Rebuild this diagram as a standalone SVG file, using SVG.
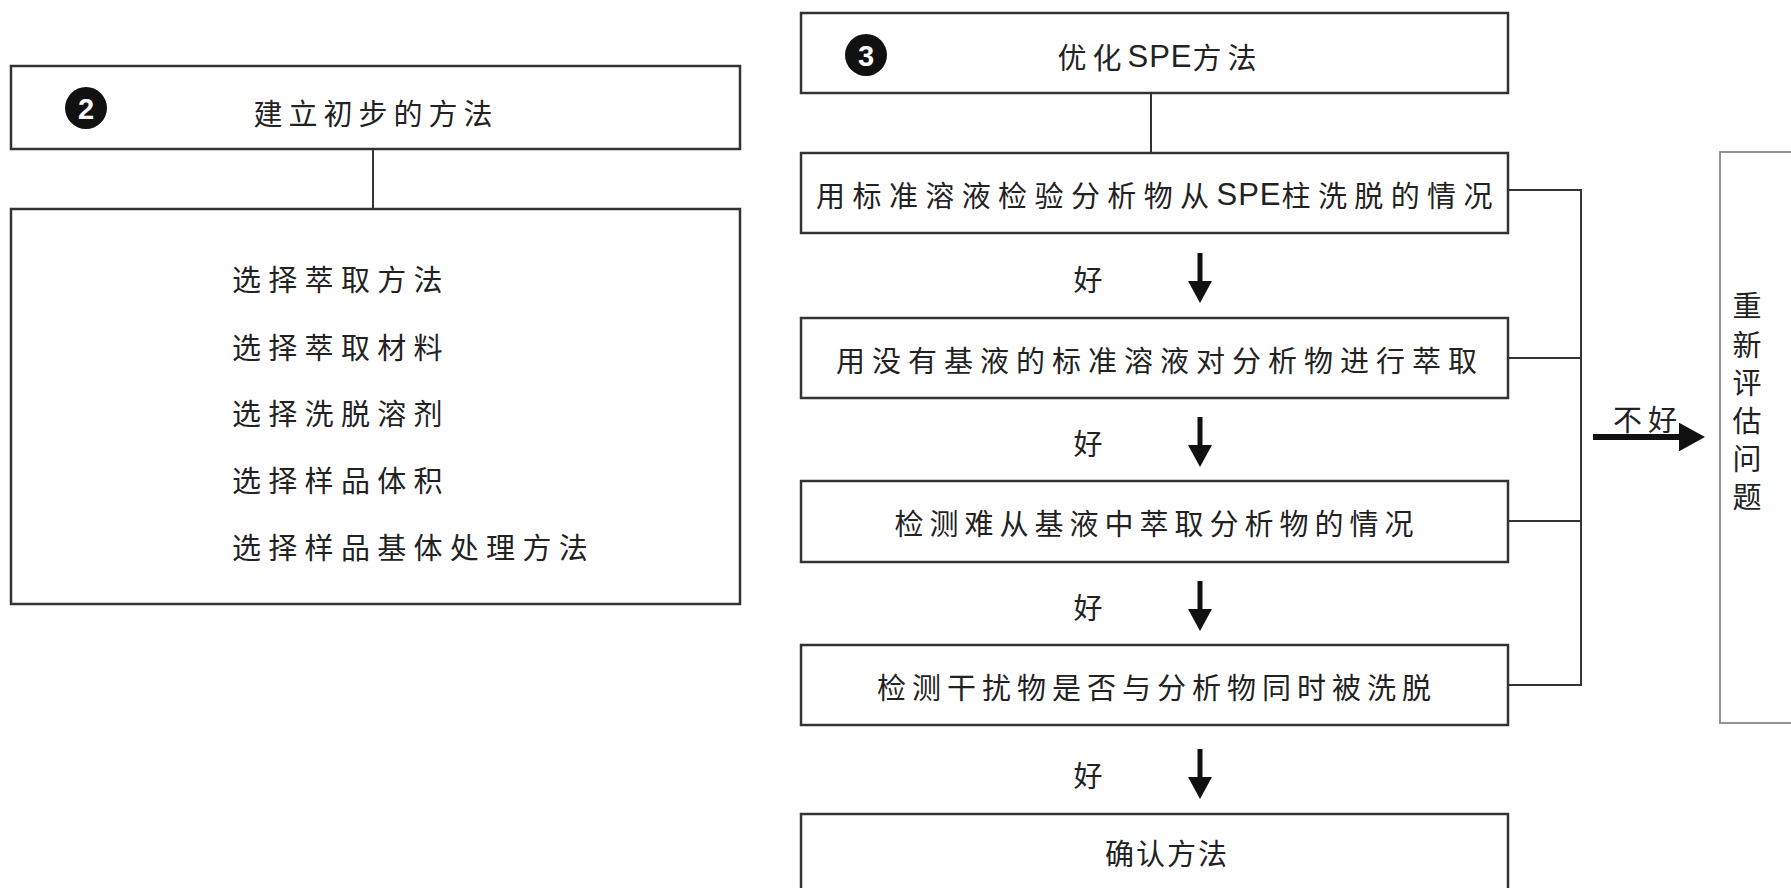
<svg xmlns="http://www.w3.org/2000/svg" width="1791" height="888" viewBox="0 0 1791 888">
<defs>
<style>
.box{fill:#fff;stroke:#333;stroke-width:2.5}
.box2{fill:#fff;stroke:#888;stroke-width:1.8}
.ln{fill:none;stroke:#333;stroke-width:2}
.t{font-family:"Noto Sans CJK SC","Liberation Sans",sans-serif;font-size:29px;fill:#222;letter-spacing:6px}
.lt{font-family:"Liberation Sans",sans-serif;font-size:31px;letter-spacing:1px}
.c{text-anchor:middle;dominant-baseline:central}
.l{dominant-baseline:central;letter-spacing:7.3px}
.v{letter-spacing:0}
.num{font-family:"Liberation Sans",sans-serif;font-weight:bold;font-size:29px;fill:#fff;text-anchor:middle;dominant-baseline:central}
</style>
<marker id="ah" markerWidth="4.4" markerHeight="4.8" refX="0.2" refY="2.4" orient="auto" markerUnits="strokeWidth">
<path d="M0,0 L4.4,2.4 L0,4.8 Z" fill="#111"/>
</marker>
</defs>
<rect width="1791" height="888" fill="#fff"/>

<g id="connectors">
<line class="ln" x1="373" y1="149" x2="373" y2="209"/>
<line class="ln" x1="1151" y1="93" x2="1151" y2="153"/>
<line x1="1200" y1="253" x2="1200" y2="282" stroke="#111" stroke-width="5" marker-end="url(#ah)"/>
<line x1="1200" y1="417" x2="1200" y2="446" stroke="#111" stroke-width="5" marker-end="url(#ah)"/>
<line x1="1200" y1="581" x2="1200" y2="610" stroke="#111" stroke-width="5" marker-end="url(#ah)"/>
<line x1="1200" y1="749" x2="1200" y2="778" stroke="#111" stroke-width="5" marker-end="url(#ah)"/>
<polyline class="ln" points="1508,190 1581,190 1581,685 1508,685"/>
<line class="ln" x1="1508" y1="358" x2="1581" y2="358"/>
<line class="ln" x1="1508" y1="521" x2="1581" y2="521"/>
<line x1="1593" y1="437" x2="1680" y2="437" stroke="#111" stroke-width="6" marker-end="url(#ah)"/>
<text class="t c" x="1091" y="278">好</text>
<text class="t c" x="1091" y="442">好</text>
<text class="t c" x="1091" y="606">好</text>
<text class="t c" x="1091" y="774">好</text>
<text class="t c" x="1648" y="418">不好</text>
</g>

<g id="n2">
<rect class="box" x="11" y="66" width="729" height="83"/>
<circle cx="86" cy="108" r="21" fill="#111"/>
<text class="num" x="86" y="109">2</text>
<text class="t c" x="376" y="112">建立初步的方法</text>
</g>

<g id="n2list">
<rect class="box" x="11" y="209" width="729" height="395"/>
<text class="t l" x="232" y="278">选择萃取方法</text>
<text class="t l" x="232" y="346">选择萃取材料</text>
<text class="t l" x="232" y="412">选择洗脱溶剂</text>
<text class="t l" x="232" y="479">选择样品体积</text>
<text class="t l" x="232" y="546">选择样品基体处理方法</text>
</g>

<g id="n3">
<rect class="box" x="801" y="13" width="707" height="80"/>
<circle cx="866" cy="55" r="21" fill="#111"/>
<text class="num" x="866" y="56">3</text>
<text class="t c" x="1160" y="56">优化<tspan class="lt">SPE</tspan>方法</text>
</g>

<g id="a">
<rect class="box" x="801" y="153" width="707" height="80"/>
<text class="t c" x="1158" y="194" style="letter-spacing:7.4px">用标准溶液检验分析物从<tspan class="lt">SPE</tspan>柱洗脱的情况</text>
</g>
<g id="b">
<rect class="box" x="801" y="318" width="707" height="80"/>
<text class="t c" x="1160" y="359" style="letter-spacing:7px">用没有基液的标准溶液对分析物进行萃取</text>
</g>
<g id="c">
<rect class="box" x="801" y="481" width="707" height="81"/>
<text class="t c" x="1157" y="522">检测难从基液中萃取分析物的情况</text>
</g>
<g id="d">
<rect class="box" x="801" y="645" width="707" height="80"/>
<text class="t c" x="1157" y="686">检测干扰物是否与分析物同时被洗脱</text>
</g>
<g id="e">
<rect class="box" x="801" y="814" width="707" height="90"/>
<text class="t c" x="1167" y="852" style="letter-spacing:2px">确认方法</text>
</g>

<g id="r">
<rect class="box2" x="1720" y="152" width="90" height="571"/>
<text class="t c v" x="1747" y="304">重</text>
<text class="t c v" x="1747" y="343">新</text>
<text class="t c v" x="1747" y="381">评</text>
<text class="t c v" x="1747" y="419">估</text>
<text class="t c v" x="1747" y="457">问</text>
<text class="t c v" x="1747" y="495">题</text>
</g>
</svg>
